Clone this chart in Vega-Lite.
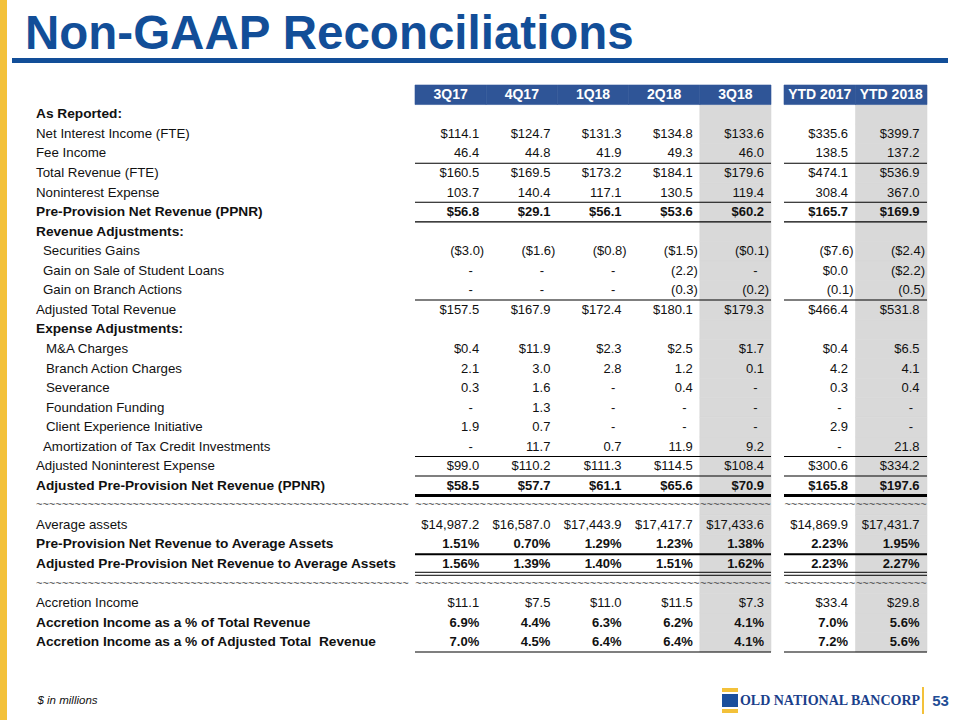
{
  "$schema": "https://vega.github.io/schema/vega-lite/v6.json",
  "padding": 0,
  "background": "#FFFFFF",
  "spacing": 5,
  "bounds": "flush",
  "config": {"view": {"stroke": null}, "text": {"font": "Liberation Sans"}},
  "datasets": {
    "table": [
      {"line":0,"kind":"header","label":"","3Q17":"3Q17","4Q17":"4Q17","1Q18":"1Q18","2Q18":"2Q18","3Q18":"3Q18","YTD 2017":"YTD 2017","YTD 2018":"YTD 2018"},
      {"line":1,"kind":"section","label":"As Reported:"},
      {"line":2,"kind":"item","label":"Net Interest Income (FTE)","3Q17":"$114.1","4Q17":"$124.7","1Q18":"$131.3","2Q18":"$134.8","3Q18":"$133.6","YTD 2017":"$335.6","YTD 2018":"$399.7"},
      {"line":3,"kind":"item","label":"Fee Income","3Q17":"46.4","4Q17":"44.8","1Q18":"41.9","2Q18":"49.3","3Q18":"46.0","YTD 2017":"138.5","YTD 2018":"137.2","border":"thin"},
      {"line":4,"kind":"item","label":"Total Revenue (FTE)","3Q17":"$160.5","4Q17":"$169.5","1Q18":"$173.2","2Q18":"$184.1","3Q18":"$179.6","YTD 2017":"$474.1","YTD 2018":"$536.9"},
      {"line":5,"kind":"item","label":"Noninterest Expense","3Q17":"103.7","4Q17":"140.4","1Q18":"117.1","2Q18":"130.5","3Q18":"119.4","YTD 2017":"308.4","YTD 2018":"367.0","border":"thin"},
      {"line":6,"kind":"total","label":"Pre-Provision Net Revenue (PPNR)","3Q17":"$56.8","4Q17":"$29.1","1Q18":"$56.1","2Q18":"$53.6","3Q18":"$60.2","YTD 2017":"$165.7","YTD 2018":"$169.9","border":"thin"},
      {"line":7,"kind":"section","label":"Revenue Adjustments:"},
      {"line":8,"kind":"item","level":1,"label":"Securities Gains","3Q17":"($3.0)","4Q17":"($1.6)","1Q18":"($0.8)","2Q18":"($1.5)","3Q18":"($0.1)","YTD 2017":"($7.6)","YTD 2018":"($2.4)"},
      {"line":9,"kind":"item","level":1,"label":"Gain on Sale of Student Loans","3Q17":"-","4Q17":"-","1Q18":"-","2Q18":"(2.2)","3Q18":"-","YTD 2017":"$0.0","YTD 2018":"($2.2)"},
      {"line":10,"kind":"item","level":1,"label":"Gain on Branch Actions","3Q17":"-","4Q17":"-","1Q18":"-","2Q18":"(0.3)","3Q18":"(0.2)","YTD 2017":"(0.1)","YTD 2018":"(0.5)","border":"thin"},
      {"line":11,"kind":"item","label":"Adjusted Total Revenue","3Q17":"$157.5","4Q17":"$167.9","1Q18":"$172.4","2Q18":"$180.1","3Q18":"$179.3","YTD 2017":"$466.4","YTD 2018":"$531.8"},
      {"line":12,"kind":"section","label":"Expense Adjustments:"},
      {"line":13,"kind":"item","level":2,"label":"M&A Charges","3Q17":"$0.4","4Q17":"$11.9","1Q18":"$2.3","2Q18":"$2.5","3Q18":"$1.7","YTD 2017":"$0.4","YTD 2018":"$6.5"},
      {"line":14,"kind":"item","level":2,"label":"Branch Action Charges","3Q17":"2.1","4Q17":"3.0","1Q18":"2.8","2Q18":"1.2","3Q18":"0.1","YTD 2017":"4.2","YTD 2018":"4.1"},
      {"line":15,"kind":"item","level":2,"label":"Severance","3Q17":"0.3","4Q17":"1.6","1Q18":"-","2Q18":"0.4","3Q18":"-","YTD 2017":"0.3","YTD 2018":"0.4"},
      {"line":16,"kind":"item","level":2,"label":"Foundation Funding","3Q17":"-","4Q17":"1.3","1Q18":"-","2Q18":"-","3Q18":"-","YTD 2017":"-","YTD 2018":"-"},
      {"line":17,"kind":"item","level":2,"label":"Client Experience Initiative","3Q17":"1.9","4Q17":"0.7","1Q18":"-","2Q18":"-","3Q18":"-","YTD 2017":"2.9","YTD 2018":"-"},
      {"line":18,"kind":"item","level":1,"label":"Amortization of Tax Credit Investments","3Q17":"-","4Q17":"11.7","1Q18":"0.7","2Q18":"11.9","3Q18":"9.2","YTD 2017":"-","YTD 2018":"21.8","border":"thin"},
      {"line":19,"kind":"item","label":"Adjusted Noninterest Expense","3Q17":"$99.0","4Q17":"$110.2","1Q18":"$111.3","2Q18":"$114.5","3Q18":"$108.4","YTD 2017":"$300.6","YTD 2018":"$334.2","border":"thin"},
      {"line":20,"kind":"total","label":"Adjusted Pre-Provision Net Revenue (PPNR)","3Q17":"$58.5","4Q17":"$57.7","1Q18":"$61.1","2Q18":"$65.6","3Q18":"$70.9","YTD 2017":"$165.8","YTD 2018":"$197.6","border":"thick"},
      {"line":21,"kind":"divider","label":"~~~~~~~~~~~~~~~~~~~~~~~~~~~~~~~~~~~~~~~~~~~~~~~~~~~~~~~~~~","3Q17":"~~~~~~~~~~~","4Q17":"~~~~~~~~~~~","1Q18":"~~~~~~~~~~~","2Q18":"~~~~~~~~~~~","3Q18":"~~~~~~~~~~~","YTD 2017":"~~~~~~~~~~~","YTD 2018":"~~~~~~~~~~~"},
      {"line":22,"kind":"item","label":"Average assets","3Q17":"$14,987.2","4Q17":"$16,587.0","1Q18":"$17,443.9","2Q18":"$17,417.7","3Q18":"$17,433.6","YTD 2017":"$14,869.9","YTD 2018":"$17,431.7"},
      {"line":23,"kind":"total","label":"Pre-Provision Net Revenue to Average Assets","3Q17":"1.51%","4Q17":"0.70%","1Q18":"1.29%","2Q18":"1.23%","3Q18":"1.38%","YTD 2017":"2.23%","YTD 2018":"1.95%","border":"medium"},
      {"line":24,"kind":"total","label":"Adjusted Pre-Provision Net Revenue to Average Assets","3Q17":"1.56%","4Q17":"1.39%","1Q18":"1.40%","2Q18":"1.51%","3Q18":"1.62%","YTD 2017":"2.23%","YTD 2018":"2.27%","border":"double"},
      {"line":25,"kind":"divider","label":"~~~~~~~~~~~~~~~~~~~~~~~~~~~~~~~~~~~~~~~~~~~~~~~~~~~~~~~~~~","3Q17":"~~~~~~~~~~~","4Q17":"~~~~~~~~~~~","1Q18":"~~~~~~~~~~~","2Q18":"~~~~~~~~~~~","3Q18":"~~~~~~~~~~~","YTD 2017":"~~~~~~~~~~~","YTD 2018":"~~~~~~~~~~~"},
      {"line":26,"kind":"item","label":"Accretion Income","3Q17":"$11.1","4Q17":"$7.5","1Q18":"$11.0","2Q18":"$11.5","3Q18":"$7.3","YTD 2017":"$33.4","YTD 2018":"$29.8"},
      {"line":27,"kind":"total","label":"Accretion Income as a % of Total Revenue","3Q17":"6.9%","4Q17":"4.4%","1Q18":"6.3%","2Q18":"6.2%","3Q18":"4.1%","YTD 2017":"7.0%","YTD 2018":"5.6%"},
      {"line":28,"kind":"total","label":"Accretion Income as a % of Adjusted Total\u00a0 Revenue","3Q17":"7.0%","4Q17":"4.5%","1Q18":"6.4%","2Q18":"6.4%","3Q18":"4.1%","YTD 2017":"7.2%","YTD 2018":"5.6%","border":"thin"}
    ]
  },
  "hconcat": [
    {"width":7,"height":720,"view":{"fill":"#F3C13A"},"data":{"values":[]},"mark":"text","encoding":{"text":{"value":""}}},
    {
      "spacing": 0,
      "bounds": "full",
      "vconcat": [
        {"width":936,"height":60.5,"data":{"values":[{"title":"Non-GAAP Reconciliations"}]},
         "layer":[
           {"mark":{"type":"rule","color":"#124E98","strokeWidth":5},
            "encoding":{"y":{"datum":0,"type":"quantitative","scale":{"domain":[0,1]},"axis":null}}},
           {"mark":{"type":"text","font":"Liberation Sans","fontSize":47.5,"fontWeight":"bold","color":"#124E98","align":"left","baseline":"alphabetic","dx":13,"dy":-11.5},
            "encoding":{
              "x":{"datum":0,"type":"quantitative","scale":{"domain":[0,1]},"axis":null},
              "y":{"datum":0,"type":"quantitative","scale":{"domain":[0,1]},"axis":null},
              "text":{"field":"title"}}}
         ]},
        {"width":936,"height":21,"data":{"values":[]},"mark":"text","encoding":{"text":{"value":""}}},
        {
          "spacing": 0,
          "bounds": "flush",
          "hconcat": [
            {
              "width":403,"height":567,
              "data":{"name":"table"},
              "layer":[
                {"transform":[{"fold":["label"],"as":["col","value"]},{"filter":"datum.kind === 'item' && !datum.level"}],
                 "mark":{"type":"text","fontSize":13.3,"align":"left","baseline":"middle","dx":24,"color":"#111111"},
                 "encoding":{
                   "x":{"field":"col","type":"nominal","bandPosition":0,"scale":{"type":"band","domain":["label"],"paddingInner":0,"paddingOuter":0},"axis":null},
                   "y":{"field":"line","type":"ordinal","scale":{"type":"band","domain":[0,1,2,3,4,5,6,7,8,9,10,11,12,13,14,15,16,17,18,19,20,21,22,23,24,25,26,27,28],"paddingInner":0,"paddingOuter":0},"axis":null},
                   "text":{"field":"value"}}},
                {"transform":[{"fold":["label"],"as":["col","value"]},{"filter":"datum.kind === 'item' && datum.level === 1"}],
                 "mark":{"type":"text","fontSize":13.3,"align":"left","baseline":"middle","dx":31,"color":"#111111"},
                 "encoding":{
                   "x":{"field":"col","type":"nominal","bandPosition":0,"scale":{"type":"band","domain":["label"],"paddingInner":0,"paddingOuter":0},"axis":null},
                   "y":{"field":"line","type":"ordinal","scale":{"type":"band","domain":[0,1,2,3,4,5,6,7,8,9,10,11,12,13,14,15,16,17,18,19,20,21,22,23,24,25,26,27,28],"paddingInner":0,"paddingOuter":0},"axis":null},
                   "text":{"field":"value"}}},
                {"transform":[{"fold":["label"],"as":["col","value"]},{"filter":"datum.kind === 'item' && datum.level === 2"}],
                 "mark":{"type":"text","fontSize":13.3,"align":"left","baseline":"middle","dx":34,"color":"#111111"},
                 "encoding":{
                   "x":{"field":"col","type":"nominal","bandPosition":0,"scale":{"type":"band","domain":["label"],"paddingInner":0,"paddingOuter":0},"axis":null},
                   "y":{"field":"line","type":"ordinal","scale":{"type":"band","domain":[0,1,2,3,4,5,6,7,8,9,10,11,12,13,14,15,16,17,18,19,20,21,22,23,24,25,26,27,28],"paddingInner":0,"paddingOuter":0},"axis":null},
                   "text":{"field":"value"}}},
                {"transform":[{"fold":["label"],"as":["col","value"]},{"filter":"datum.kind === 'section' || datum.kind === 'total'"}],
                 "mark":{"type":"text","fontSize":13.7,"fontWeight":"bold","align":"left","baseline":"middle","dx":24,"color":"#111111"},
                 "encoding":{
                   "x":{"field":"col","type":"nominal","bandPosition":0,"scale":{"type":"band","domain":["label"],"paddingInner":0,"paddingOuter":0},"axis":null},
                   "y":{"field":"line","type":"ordinal","scale":{"type":"band","domain":[0,1,2,3,4,5,6,7,8,9,10,11,12,13,14,15,16,17,18,19,20,21,22,23,24,25,26,27,28],"paddingInner":0,"paddingOuter":0},"axis":null},
                   "text":{"field":"value"}}},
                {"transform":[{"fold":["label"],"as":["col","value"]},{"filter":"datum.kind === 'divider'"}],
                 "mark":{"type":"text","fontSize":11,"align":"left","baseline":"middle","dx":24,"color":"#444444"},
                 "encoding":{
                   "x":{"field":"col","type":"nominal","bandPosition":0,"scale":{"type":"band","domain":["label"],"paddingInner":0,"paddingOuter":0},"axis":null},
                   "y":{"field":"line","type":"ordinal","scale":{"type":"band","domain":[0,1,2,3,4,5,6,7,8,9,10,11,12,13,14,15,16,17,18,19,20,21,22,23,24,25,26,27,28],"paddingInner":0,"paddingOuter":0},"axis":null},
                   "text":{"field":"value"}}}
              ]
            },
            {
              "width":356,"height":567,
              "data":{"name":"table"},
              "layer":[
                {"transform":[{"fold":["3Q17","4Q17","1Q18","2Q18","3Q18"],"as":["col","value"]},{"filter":"datum.col === '3Q18' && datum.kind !== 'header'"}],
                 "mark":{"type":"rect","color":"#D9D9D9","stroke":"#D9D9D9","strokeWidth":0.6},
                 "encoding":{
                   "x":{"field":"col","type":"nominal","scale":{"type":"band","domain":["3Q17","4Q17","1Q18","2Q18","3Q18"],"paddingInner":0,"paddingOuter":0},"axis":null},
                   "y":{"field":"line","type":"ordinal","scale":{"type":"band","domain":[0,1,2,3,4,5,6,7,8,9,10,11,12,13,14,15,16,17,18,19,20,21,22,23,24,25,26,27,28],"paddingInner":0,"paddingOuter":0},"axis":null}}},
                {"transform":[{"fold":["3Q17","4Q17","1Q18","2Q18","3Q18"],"as":["col","value"]},{"filter":"datum.kind === 'header'"}],
                 "mark":{"type":"rect","color":"#2F5597","stroke":"#2F5597","strokeWidth":0.6},
                 "encoding":{
                   "x":{"field":"col","type":"nominal","scale":{"type":"band","domain":["3Q17","4Q17","1Q18","2Q18","3Q18"],"paddingInner":0,"paddingOuter":0},"axis":null},
                   "y":{"field":"line","type":"ordinal","scale":{"type":"band","domain":[0,1,2,3,4,5,6,7,8,9,10,11,12,13,14,15,16,17,18,19,20,21,22,23,24,25,26,27,28],"paddingInner":0,"paddingOuter":0},"axis":null}}},
                {"transform":[{"fold":["3Q17","4Q17","1Q18","2Q18","3Q18"],"as":["col","value"]},{"filter":"datum.kind === 'header'"}],
                 "mark":{"type":"text","color":"#FFFFFF","font":"Liberation Sans","fontSize":14,"fontWeight":"bold","align":"center","baseline":"middle"},
                 "encoding":{
                   "x":{"field":"col","type":"nominal","bandPosition":0.5,"scale":{"type":"band","domain":["3Q17","4Q17","1Q18","2Q18","3Q18"],"paddingInner":0,"paddingOuter":0},"axis":null},
                   "y":{"field":"line","type":"ordinal","scale":{"type":"band","domain":[0,1,2,3,4,5,6,7,8,9,10,11,12,13,14,15,16,17,18,19,20,21,22,23,24,25,26,27,28],"paddingInner":0,"paddingOuter":0},"axis":null},
                   "text":{"field":"value"}}},
                {"transform":[{"filter":"datum.border === 'thin'"}],"mark":{"type":"rule","color":"#000000","strokeWidth":1.1},
                 "encoding":{"y":{"field":"line","type":"ordinal","bandPosition":1,"scale":{"type":"band","domain":[0,1,2,3,4,5,6,7,8,9,10,11,12,13,14,15,16,17,18,19,20,21,22,23,24,25,26,27,28],"paddingInner":0,"paddingOuter":0},"axis":null}}},
                {"transform":[{"filter":"datum.border === 'medium'"}],"mark":{"type":"rule","color":"#000000","strokeWidth":2.2},
                 "encoding":{"y":{"field":"line","type":"ordinal","bandPosition":1,"scale":{"type":"band","domain":[0,1,2,3,4,5,6,7,8,9,10,11,12,13,14,15,16,17,18,19,20,21,22,23,24,25,26,27,28],"paddingInner":0,"paddingOuter":0},"axis":null}}},
                {"transform":[{"filter":"datum.border === 'thick'"}],"mark":{"type":"rule","color":"#000000","strokeWidth":3},
                 "encoding":{"y":{"field":"line","type":"ordinal","bandPosition":1,"scale":{"type":"band","domain":[0,1,2,3,4,5,6,7,8,9,10,11,12,13,14,15,16,17,18,19,20,21,22,23,24,25,26,27,28],"paddingInner":0,"paddingOuter":0},"axis":null}}},
                {"transform":[{"filter":"datum.border === 'double'"}],"mark":{"type":"rule","color":"#000000","strokeWidth":1,"yOffset":-1.5},
                 "encoding":{"y":{"field":"line","type":"ordinal","bandPosition":1,"scale":{"type":"band","domain":[0,1,2,3,4,5,6,7,8,9,10,11,12,13,14,15,16,17,18,19,20,21,22,23,24,25,26,27,28],"paddingInner":0,"paddingOuter":0},"axis":null}}},
                {"transform":[{"filter":"datum.border === 'double'"}],"mark":{"type":"rule","color":"#000000","strokeWidth":1,"yOffset":1.5},
                 "encoding":{"y":{"field":"line","type":"ordinal","bandPosition":1,"scale":{"type":"band","domain":[0,1,2,3,4,5,6,7,8,9,10,11,12,13,14,15,16,17,18,19,20,21,22,23,24,25,26,27,28],"paddingInner":0,"paddingOuter":0},"axis":null}}},
                {"transform":[{"fold":["3Q17","4Q17","1Q18","2Q18","3Q18"],"as":["col","value"]},{"filter":"datum.kind === 'divider'"}],
                 "mark":{"type":"text","color":"#444444","fontSize":11,"align":"center","baseline":"middle"},
                 "encoding":{
                   "x":{"field":"col","type":"nominal","bandPosition":0.5,"scale":{"type":"band","domain":["3Q17","4Q17","1Q18","2Q18","3Q18"],"paddingInner":0,"paddingOuter":0},"axis":null},
                   "y":{"field":"line","type":"ordinal","scale":{"type":"band","domain":[0,1,2,3,4,5,6,7,8,9,10,11,12,13,14,15,16,17,18,19,20,21,22,23,24,25,26,27,28],"paddingInner":0,"paddingOuter":0},"axis":null},
                   "text":{"field":"value"}}},
                {"transform":[{"fold":["3Q17","4Q17","1Q18","2Q18","3Q18"],"as":["col","value"]},{"filter":"datum.kind === 'item' && datum.value != null && datum.value !== '-' && indexof(datum.value, '(') < 0"}],
                 "mark":{"type":"text","color":"#111111","fontSize":13,"align":"right","baseline":"middle","dx":-7},
                 "encoding":{
                   "x":{"field":"col","type":"nominal","bandPosition":1,"scale":{"type":"band","domain":["3Q17","4Q17","1Q18","2Q18","3Q18"],"paddingInner":0,"paddingOuter":0},"axis":null},
                   "y":{"field":"line","type":"ordinal","scale":{"type":"band","domain":[0,1,2,3,4,5,6,7,8,9,10,11,12,13,14,15,16,17,18,19,20,21,22,23,24,25,26,27,28],"paddingInner":0,"paddingOuter":0},"axis":null},
                   "text":{"field":"value"}}},
                {"transform":[{"fold":["3Q17","4Q17","1Q18","2Q18","3Q18"],"as":["col","value"]},{"filter":"datum.kind === 'item' && datum.value != null && indexof(datum.value, '(') >= 0"}],
                 "mark":{"type":"text","color":"#111111","fontSize":13,"align":"right","baseline":"middle","dx":-2},
                 "encoding":{
                   "x":{"field":"col","type":"nominal","bandPosition":1,"scale":{"type":"band","domain":["3Q17","4Q17","1Q18","2Q18","3Q18"],"paddingInner":0,"paddingOuter":0},"axis":null},
                   "y":{"field":"line","type":"ordinal","scale":{"type":"band","domain":[0,1,2,3,4,5,6,7,8,9,10,11,12,13,14,15,16,17,18,19,20,21,22,23,24,25,26,27,28],"paddingInner":0,"paddingOuter":0},"axis":null},
                   "text":{"field":"value"}}},
                {"transform":[{"fold":["3Q17","4Q17","1Q18","2Q18","3Q18"],"as":["col","value"]},{"filter":"datum.kind === 'item' && datum.value === '-'"}],
                 "mark":{"type":"text","color":"#111111","fontSize":13,"align":"center","baseline":"middle","dx":-15.5},
                 "encoding":{
                   "x":{"field":"col","type":"nominal","bandPosition":1,"scale":{"type":"band","domain":["3Q17","4Q17","1Q18","2Q18","3Q18"],"paddingInner":0,"paddingOuter":0},"axis":null},
                   "y":{"field":"line","type":"ordinal","scale":{"type":"band","domain":[0,1,2,3,4,5,6,7,8,9,10,11,12,13,14,15,16,17,18,19,20,21,22,23,24,25,26,27,28],"paddingInner":0,"paddingOuter":0},"axis":null},
                   "text":{"field":"value"}}},
                {"transform":[{"fold":["3Q17","4Q17","1Q18","2Q18","3Q18"],"as":["col","value"]},{"filter":"datum.kind === 'total' && datum.value != null"}],
                 "mark":{"type":"text","color":"#111111","fontSize":13,"fontWeight":"bold","align":"right","baseline":"middle","dx":-7},
                 "encoding":{
                   "x":{"field":"col","type":"nominal","bandPosition":1,"scale":{"type":"band","domain":["3Q17","4Q17","1Q18","2Q18","3Q18"],"paddingInner":0,"paddingOuter":0},"axis":null},
                   "y":{"field":"line","type":"ordinal","scale":{"type":"band","domain":[0,1,2,3,4,5,6,7,8,9,10,11,12,13,14,15,16,17,18,19,20,21,22,23,24,25,26,27,28],"paddingInner":0,"paddingOuter":0},"axis":null},
                   "text":{"field":"value"}}}
              ]
            },
            {"width":13,"height":567,"data":{"values":[]},"mark":"text","encoding":{"text":{"value":""}}},
            {
              "width":143,"height":567,
              "data":{"name":"table"},
              "layer":[
                {"transform":[{"fold":["YTD 2017","YTD 2018"],"as":["col","value"]},{"filter":"datum.col === 'YTD 2018' && datum.kind !== 'header'"}],
                 "mark":{"type":"rect","color":"#D9D9D9","stroke":"#D9D9D9","strokeWidth":0.6},
                 "encoding":{
                   "x":{"field":"col","type":"nominal","scale":{"type":"band","domain":["YTD 2017","YTD 2018"],"paddingInner":0,"paddingOuter":0},"axis":null},
                   "y":{"field":"line","type":"ordinal","scale":{"type":"band","domain":[0,1,2,3,4,5,6,7,8,9,10,11,12,13,14,15,16,17,18,19,20,21,22,23,24,25,26,27,28],"paddingInner":0,"paddingOuter":0},"axis":null}}},
                {"transform":[{"fold":["YTD 2017","YTD 2018"],"as":["col","value"]},{"filter":"datum.kind === 'header'"}],
                 "mark":{"type":"rect","color":"#2F5597","stroke":"#2F5597","strokeWidth":0.6},
                 "encoding":{
                   "x":{"field":"col","type":"nominal","scale":{"type":"band","domain":["YTD 2017","YTD 2018"],"paddingInner":0,"paddingOuter":0},"axis":null},
                   "y":{"field":"line","type":"ordinal","scale":{"type":"band","domain":[0,1,2,3,4,5,6,7,8,9,10,11,12,13,14,15,16,17,18,19,20,21,22,23,24,25,26,27,28],"paddingInner":0,"paddingOuter":0},"axis":null}}},
                {"transform":[{"fold":["YTD 2017","YTD 2018"],"as":["col","value"]},{"filter":"datum.kind === 'header'"}],
                 "mark":{"type":"text","color":"#FFFFFF","font":"Liberation Sans","fontSize":14,"fontWeight":"bold","align":"center","baseline":"middle"},
                 "encoding":{
                   "x":{"field":"col","type":"nominal","bandPosition":0.5,"scale":{"type":"band","domain":["YTD 2017","YTD 2018"],"paddingInner":0,"paddingOuter":0},"axis":null},
                   "y":{"field":"line","type":"ordinal","scale":{"type":"band","domain":[0,1,2,3,4,5,6,7,8,9,10,11,12,13,14,15,16,17,18,19,20,21,22,23,24,25,26,27,28],"paddingInner":0,"paddingOuter":0},"axis":null},
                   "text":{"field":"value"}}},
                {"transform":[{"filter":"datum.border === 'thin'"}],"mark":{"type":"rule","color":"#000000","strokeWidth":1.1},
                 "encoding":{"y":{"field":"line","type":"ordinal","bandPosition":1,"scale":{"type":"band","domain":[0,1,2,3,4,5,6,7,8,9,10,11,12,13,14,15,16,17,18,19,20,21,22,23,24,25,26,27,28],"paddingInner":0,"paddingOuter":0},"axis":null}}},
                {"transform":[{"filter":"datum.border === 'medium'"}],"mark":{"type":"rule","color":"#000000","strokeWidth":2.2},
                 "encoding":{"y":{"field":"line","type":"ordinal","bandPosition":1,"scale":{"type":"band","domain":[0,1,2,3,4,5,6,7,8,9,10,11,12,13,14,15,16,17,18,19,20,21,22,23,24,25,26,27,28],"paddingInner":0,"paddingOuter":0},"axis":null}}},
                {"transform":[{"filter":"datum.border === 'thick'"}],"mark":{"type":"rule","color":"#000000","strokeWidth":3},
                 "encoding":{"y":{"field":"line","type":"ordinal","bandPosition":1,"scale":{"type":"band","domain":[0,1,2,3,4,5,6,7,8,9,10,11,12,13,14,15,16,17,18,19,20,21,22,23,24,25,26,27,28],"paddingInner":0,"paddingOuter":0},"axis":null}}},
                {"transform":[{"filter":"datum.border === 'double'"}],"mark":{"type":"rule","color":"#000000","strokeWidth":1,"yOffset":-1.5},
                 "encoding":{"y":{"field":"line","type":"ordinal","bandPosition":1,"scale":{"type":"band","domain":[0,1,2,3,4,5,6,7,8,9,10,11,12,13,14,15,16,17,18,19,20,21,22,23,24,25,26,27,28],"paddingInner":0,"paddingOuter":0},"axis":null}}},
                {"transform":[{"filter":"datum.border === 'double'"}],"mark":{"type":"rule","color":"#000000","strokeWidth":1,"yOffset":1.5},
                 "encoding":{"y":{"field":"line","type":"ordinal","bandPosition":1,"scale":{"type":"band","domain":[0,1,2,3,4,5,6,7,8,9,10,11,12,13,14,15,16,17,18,19,20,21,22,23,24,25,26,27,28],"paddingInner":0,"paddingOuter":0},"axis":null}}},
                {"transform":[{"fold":["YTD 2017","YTD 2018"],"as":["col","value"]},{"filter":"datum.kind === 'divider'"}],
                 "mark":{"type":"text","color":"#444444","fontSize":11,"align":"center","baseline":"middle"},
                 "encoding":{
                   "x":{"field":"col","type":"nominal","bandPosition":0.5,"scale":{"type":"band","domain":["YTD 2017","YTD 2018"],"paddingInner":0,"paddingOuter":0},"axis":null},
                   "y":{"field":"line","type":"ordinal","scale":{"type":"band","domain":[0,1,2,3,4,5,6,7,8,9,10,11,12,13,14,15,16,17,18,19,20,21,22,23,24,25,26,27,28],"paddingInner":0,"paddingOuter":0},"axis":null},
                   "text":{"field":"value"}}},
                {"transform":[{"fold":["YTD 2017","YTD 2018"],"as":["col","value"]},{"filter":"datum.kind === 'item' && datum.value != null && datum.value !== '-' && indexof(datum.value, '(') < 0"}],
                 "mark":{"type":"text","color":"#111111","fontSize":13,"align":"right","baseline":"middle","dx":-7.5},
                 "encoding":{
                   "x":{"field":"col","type":"nominal","bandPosition":1,"scale":{"type":"band","domain":["YTD 2017","YTD 2018"],"paddingInner":0,"paddingOuter":0},"axis":null},
                   "y":{"field":"line","type":"ordinal","scale":{"type":"band","domain":[0,1,2,3,4,5,6,7,8,9,10,11,12,13,14,15,16,17,18,19,20,21,22,23,24,25,26,27,28],"paddingInner":0,"paddingOuter":0},"axis":null},
                   "text":{"field":"value"}}},
                {"transform":[{"fold":["YTD 2017","YTD 2018"],"as":["col","value"]},{"filter":"datum.kind === 'item' && datum.value != null && indexof(datum.value, '(') >= 0"}],
                 "mark":{"type":"text","color":"#111111","fontSize":13,"align":"right","baseline":"middle","dx":-2},
                 "encoding":{
                   "x":{"field":"col","type":"nominal","bandPosition":1,"scale":{"type":"band","domain":["YTD 2017","YTD 2018"],"paddingInner":0,"paddingOuter":0},"axis":null},
                   "y":{"field":"line","type":"ordinal","scale":{"type":"band","domain":[0,1,2,3,4,5,6,7,8,9,10,11,12,13,14,15,16,17,18,19,20,21,22,23,24,25,26,27,28],"paddingInner":0,"paddingOuter":0},"axis":null},
                   "text":{"field":"value"}}},
                {"transform":[{"fold":["YTD 2017","YTD 2018"],"as":["col","value"]},{"filter":"datum.kind === 'item' && datum.value === '-'"}],
                 "mark":{"type":"text","color":"#111111","fontSize":13,"align":"center","baseline":"middle","dx":-16},
                 "encoding":{
                   "x":{"field":"col","type":"nominal","bandPosition":1,"scale":{"type":"band","domain":["YTD 2017","YTD 2018"],"paddingInner":0,"paddingOuter":0},"axis":null},
                   "y":{"field":"line","type":"ordinal","scale":{"type":"band","domain":[0,1,2,3,4,5,6,7,8,9,10,11,12,13,14,15,16,17,18,19,20,21,22,23,24,25,26,27,28],"paddingInner":0,"paddingOuter":0},"axis":null},
                   "text":{"field":"value"}}},
                {"transform":[{"fold":["YTD 2017","YTD 2018"],"as":["col","value"]},{"filter":"datum.kind === 'total' && datum.value != null"}],
                 "mark":{"type":"text","color":"#111111","fontSize":13,"fontWeight":"bold","align":"right","baseline":"middle","dx":-7.5},
                 "encoding":{
                   "x":{"field":"col","type":"nominal","bandPosition":1,"scale":{"type":"band","domain":["YTD 2017","YTD 2018"],"paddingInner":0,"paddingOuter":0},"axis":null},
                   "y":{"field":"line","type":"ordinal","scale":{"type":"band","domain":[0,1,2,3,4,5,6,7,8,9,10,11,12,13,14,15,16,17,18,19,20,21,22,23,24,25,26,27,28],"paddingInner":0,"paddingOuter":0},"axis":null},
                   "text":{"field":"value"}}}
              ]
            }
          ]
        },
        {
          "spacing": 0,
          "bounds": "full",
          "hconcat": [
            {"spacing":0,"bounds":"flush","vconcat":[
              {"width":111,"height":34,"data":{"values":[]},"mark":"text","encoding":{"text":{"value":""}}},
              {"width":111,"height":27,"data":{"values":[{"note":"$ in millions"}]},
               "mark":{"type":"text","font":"Liberation Sans","fontSize":11.5,"fontStyle":"italic","color":"#111111","align":"center","baseline":"middle"},
               "encoding":{"text":{"field":"note"}}},
              {"width":111,"height":6,"data":{"values":[]},"mark":"text","encoding":{"text":{"value":""}}}
            ]},
            {"width":599,"height":67,"data":{"values":[]},"mark":"text","encoding":{"text":{"value":""}}},
            {"spacing":0,"bounds":"flush","vconcat":[
              {"width":16,"height":35,"data":{"values":[]},"mark":"text","encoding":{"text":{"value":""}}},
              {"width":16,"height":4,"view":{"fill":"#F3C13A"},"data":{"values":[]},"mark":"text","encoding":{"text":{"value":""}}},
              {"width":16,"height":2,"data":{"values":[]},"mark":"text","encoding":{"text":{"value":""}}},
              {"width":16,"height":13,"view":{"fill":"#1B4F9C"},"data":{"values":[]},"mark":"text","encoding":{"text":{"value":""}}},
              {"width":16,"height":2,"data":{"values":[]},"mark":"text","encoding":{"text":{"value":""}}},
              {"width":16,"height":4,"view":{"fill":"#F3C13A"},"data":{"values":[]},"mark":"text","encoding":{"text":{"value":""}}},
              {"width":16,"height":7,"data":{"values":[]},"mark":"text","encoding":{"text":{"value":""}}}
            ]},
            {"spacing":0,"bounds":"flush","vconcat":[
              {"width":184,"height":34,"data":{"values":[]},"mark":"text","encoding":{"text":{"value":""}}},
              {"width":184,"height":27,"data":{"values":[{"brand":"OLD NATIONAL BANCORP"}]},
               "mark":{"type":"text","font":"Liberation Serif","fontSize":14,"fontWeight":"bold","color":"#1B3F8B","align":"center","baseline":"middle"},
               "encoding":{"text":{"field":"brand"}}},
              {"width":184,"height":6,"data":{"values":[]},"mark":"text","encoding":{"text":{"value":""}}}
            ]},
            {"spacing":0,"bounds":"flush","vconcat":[
              {"width":2,"height":34,"data":{"values":[]},"mark":"text","encoding":{"text":{"value":""}}},
              {"width":2,"height":27,"view":{"fill":"#F3C13A"},"data":{"values":[]},"mark":"text","encoding":{"text":{"value":""}}},
              {"width":2,"height":6,"data":{"values":[]},"mark":"text","encoding":{"text":{"value":""}}}
            ]},
            {"spacing":0,"bounds":"flush","vconcat":[
              {"width":33,"height":34,"data":{"values":[]},"mark":"text","encoding":{"text":{"value":""}}},
              {"width":33,"height":27,"data":{"values":[{"page":"53"}]},
               "mark":{"type":"text","font":"Liberation Sans","fontSize":15,"fontWeight":"bold","color":"#1F4E96","align":"center","baseline":"middle"},
               "encoding":{"text":{"field":"page"}}},
              {"width":33,"height":6,"data":{"values":[]},"mark":"text","encoding":{"text":{"value":""}}}
            ]}
          ]
        }
      ]
    }
  ]
}
